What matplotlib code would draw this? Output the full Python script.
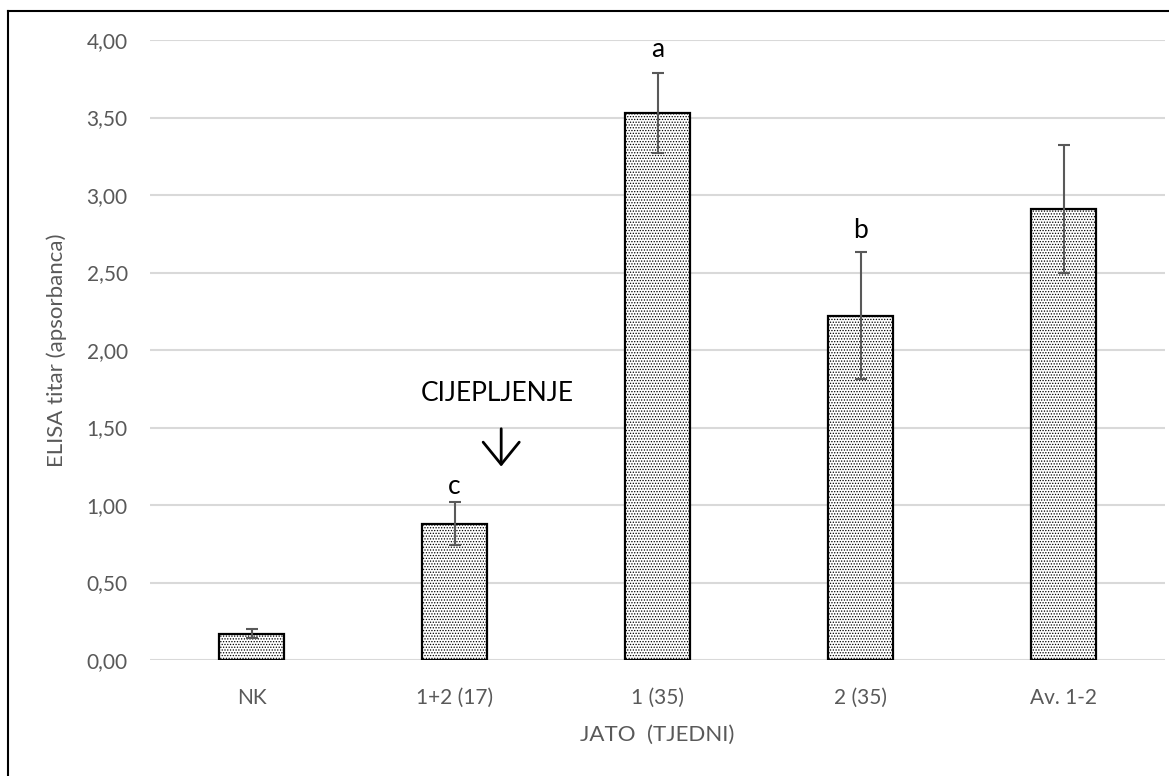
import matplotlib
matplotlib.use("Agg")
import matplotlib.pyplot as plt
from matplotlib.lines import Line2D

# data
groups = ["NK", "1+2 (17)", "1 (35)", "2 (35)", "Av. 1-2"]
means = [0.17, 0.88, 3.53, 2.22, 2.91]
errors = [0.03, 0.14, 0.26, 0.41, 0.41]
letters = ["", "c", "a", "b", ""]
letter_y = [0, 1.12, 3.94, 2.77, 0]
yticks = [0.0, 0.5, 1.0, 1.5, 2.0, 2.5, 3.0, 3.5, 4.0]

plt.rcParams["font.family"] = ["Lato", "DejaVu Sans"]
plt.rcParams["hatch.linewidth"] = 0.6
grey = "#595959"

fig = plt.figure(figsize=(11.69, 7.76), dpi=100)
ax = fig.add_axes([150 / 1169, 1 - 660 / 776, 1015 / 1169, 620 / 776])

x = list(range(len(groups)))
ax.bar(x, means, width=0.32, color="white", edgecolor="black",
       linewidth=1.6, hatch="......", zorder=3)
ax.errorbar(x, means, yerr=errors, fmt="none", ecolor=grey,
            elinewidth=1.5, capsize=4.5, capthick=1.5, zorder=4)

for xi, lab, ly in zip(x, letters, letter_y):
    if lab:
        ax.text(xi, ly, lab, ha="center", va="center", fontsize=19, color="black")

# vaccination marker
ax.text(1.21, 1.72, "CIJEPLJENJE", ha="center", va="center", fontsize=19, color="black")
ax.annotate("", xy=(1.23, 1.23), xytext=(1.23, 1.51),
            arrowprops=dict(arrowstyle="->,head_length=0.8,head_width=0.65",
                            mutation_scale=20, color="black", lw=2))

ax.set_xlim(-0.5, len(groups) - 0.5)
ax.set_ylim(0, 4)
ax.set_yticks(yticks)
ax.set_yticklabels([f"{v:.2f}".replace(".", ",") for v in yticks])
ax.set_xticks(x)
ax.set_xticklabels(groups)
ax.tick_params(axis="both", length=0, colors=grey, labelsize=15)
ax.tick_params(axis="y", pad=16)
ax.tick_params(axis="x", pad=20)
ax.yaxis.grid(True, color="#d9d9d9", linewidth=1.5, zorder=0)
ax.set_axisbelow(True)
for s in ax.spines.values():
    s.set_visible(False)

ax.set_ylabel("ELISA titar (apsorbanca)", fontsize=16, color=grey, labelpad=14)
ax.set_xlabel("JATO  (TJEDNI)", fontsize=16, color=grey, labelpad=12)

# outer frame (top and left edges visible)
fig.add_artist(Line2D([8 / 1169, 8 / 1169], [0, 1 - 11 / 776], color="black", lw=1.5))
fig.add_artist(Line2D([8 / 1169, 1], [1 - 11 / 776, 1 - 11 / 776], color="black", lw=1.5))

fig.savefig("out.png", dpi=100)
